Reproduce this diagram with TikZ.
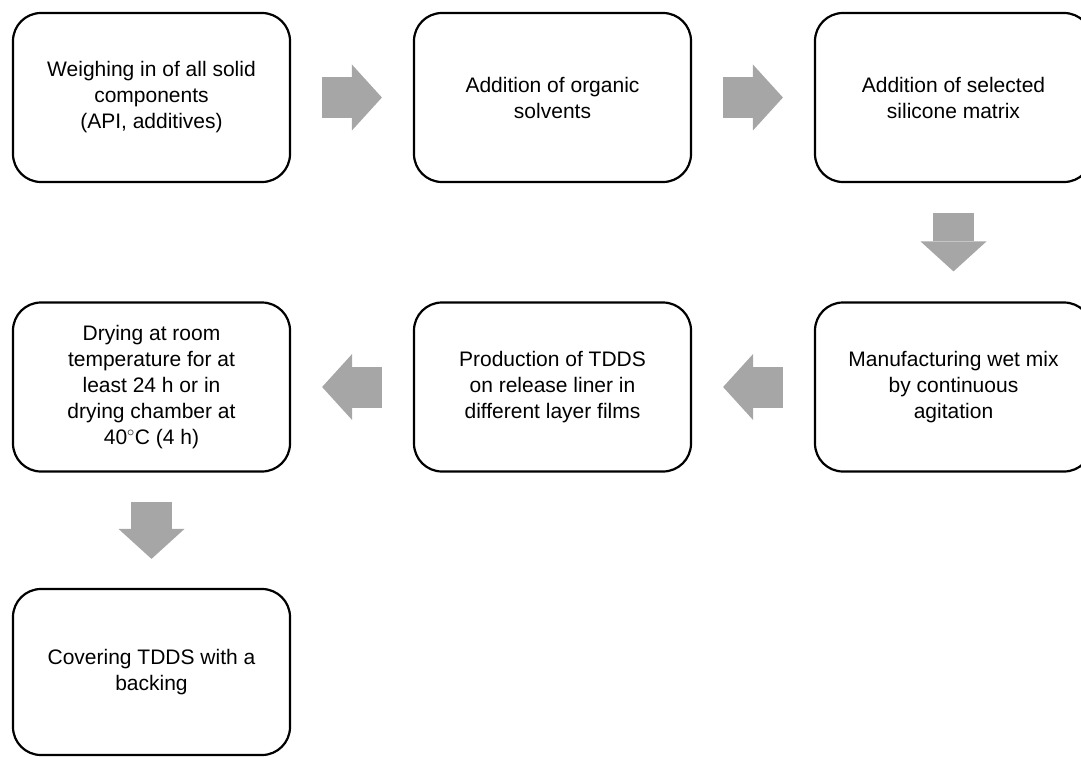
\documentclass[tikz,border=0pt]{standalone}
\usepackage{fontspec}
\setmainfont{Liberation Sans}
\usetikzlibrary{arrows.meta}
\definecolor{arrowgray}{RGB}{166,166,166}
\tikzset{
 stepbox/.style = {rectangle, draw, line width=2.2pt, rounded corners=28pt,
           minimum width=277pt, minimum height=169pt, align=center,
           font=\fontsize{21}{26}\selectfont},
 blockarrow/.style = {draw=arrowgray, line width=41pt,
           -{Triangle[length=30pt,width=66pt,line width=0pt]},
           shorten <=31pt, shorten >=31pt}
}

\begin{document}
\begin{tikzpicture}[x=1pt,y=-1pt]
  \useasboundingbox (0,0) rectangle (1081,757);

  % Row 1
  \node[stepbox] (weigh) at (151.5,97.5)
  {Weighing in of all solid\\components\\(API, additives)};
  \node[stepbox] (solvent) at (552.5,97.5)
  {Addition of organic\\solvents};
  \node[stepbox] (matrix) at (953.5,97.5)
  {Addition of selected\\silicone matrix};

  % Row 2
  \node[stepbox] (wetmix) at (953.5,387)
  {Manufacturing wet mix\\by continuous\\agitation};
  \node[stepbox] (production) at (552.5,387)
  {Production of TDDS\\on release liner in\\different layer films};
  \node[stepbox] (drying) at (151.5,387)
  {Drying at room\\temperature for at\\least 24 h or in\\drying chamber at\\40$^\circ$C (4 h)};

  % Row 3
  \node[stepbox, minimum height=166pt] (covering) at (151.5,672)
  {Covering TDDS with a\\backing};

  % Arrows
  \draw[blockarrow] (weigh) -- (solvent);
  \draw[blockarrow] (solvent) -- (matrix);
  \draw[blockarrow, shorten <=30pt, shorten >=30pt] (matrix) -- (wetmix);
  \draw[blockarrow] (wetmix) -- (production);
  \draw[blockarrow] (production) -- (drying);
  \draw[blockarrow, shorten <=29pt, shorten >=29pt] (drying) -- (covering);
\end{tikzpicture}
\end{document}
